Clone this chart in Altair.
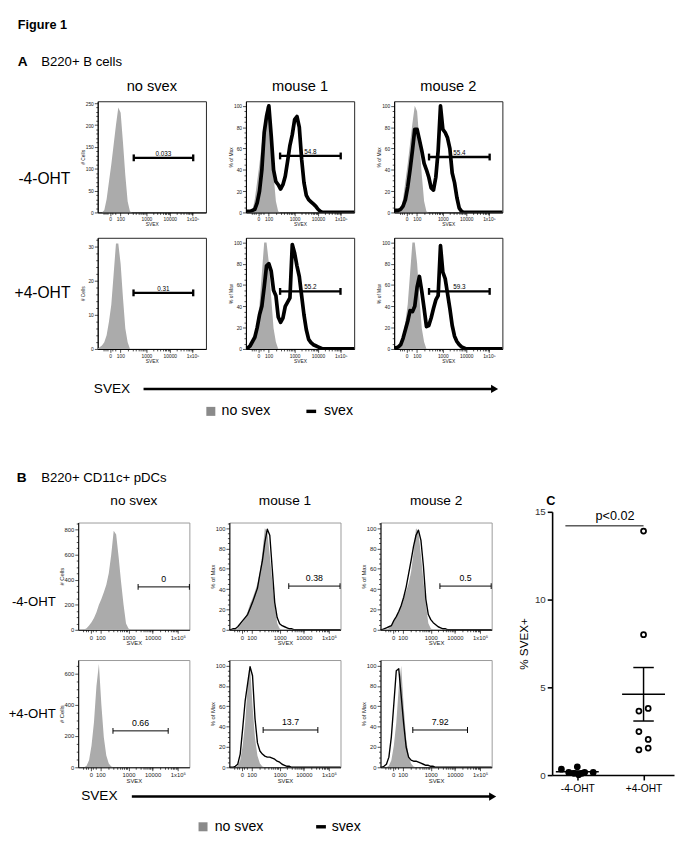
import math
import altair as alt
import pandas as pd

FONT = "Liberation Sans"
GRAY = "#ababab"
LEG_GRAY = "#8a8a8a"

# ---------------- data ----------------
svex_grid = [0.9, 1.0, 1.1, 1.2, 1.3, 1.4, 1.5, 1.6, 1.7, 1.8, 1.9, 2.0, 2.1, 2.2, 2.3, 2.4,
             2.5, 2.6, 2.7, 2.8, 2.9, 3.0, 3.1, 3.2, 3.3, 3.4, 3.5, 3.6, 3.7, 3.8, 3.9, 4.0,
             4.1, 4.2, 4.3, 5.6]

# Panel A (B220+ B cells)
a_nosvex_minus = [0, 0, 0, 5, 30, 70, 110, 155, 200, 240, 228, 160, 85, 25, 2, 0,
                  0, 0, 0, 0, 0, 0, 0, 0, 0, 0, 0, 0, 0, 0, 0, 0, 0, 0, 0, 0]
a_nosvex_plus = [0, 0.5, 1, 2, 4, 8, 13, 22, 31, 31, 25, 15, 6, 2, 0, 0,
                 0, 0, 0, 0, 0, 0, 0, 0, 0, 0, 0, 0, 0, 0, 0, 0, 0, 0, 0, 0]
a_mouse1_minus = [1, 1, 1, 2, 3, 9, 20, 40, 75, 90, 100, 72, 40, 29, 26, 22,
                  26, 34, 48, 63, 73, 87, 90, 80, 50, 28, 16, 12, 10, 8, 6, 3, 1, 0, 0, 0]
a_mouse2_minus = [2, 2, 2, 3, 6, 12, 24, 40, 58, 78, 78, 68, 58, 46, 40, 33,
                  23, 21, 33, 58, 100, 78, 75, 70, 60, 37, 28, 14, 4, 1, 0, 0, 0, 0, 0, 0]
a_mouse1_plus = [1, 1, 3, 7, 11, 20, 32, 40, 58, 78, 80, 73, 55, 50, 30, 25,
                 29, 40, 44, 48, 98, 90, 78, 68, 50, 32, 18, 9, 6, 4, 3, 2, 1, 0, 0, 0]
a_mouse2_plus = [1, 1, 2, 4, 10, 18, 26, 36, 35, 40, 58, 68, 54, 38, 21, 22,
                 29, 38, 46, 50, 97, 72, 66, 52, 38, 22, 12, 7, 4, 2, 1, 0, 0, 0, 0, 0]

# Panel B (B220+ CD11c+ pDCs)
b_nosvex_minus = [0, 0, 0, 3, 12, 35, 60, 95, 140, 200, 245, 300, 360, 450, 600, 790,
                  760, 580, 380, 200, 50, 10, 0, 0, 0, 0, 0, 0, 0, 0, 0, 0, 0, 0, 0, 0]
b_nosvex_plus = [0, 0, 0, 0, 10, 45, 140, 290, 520, 660, 400, 190, 75, 25, 5, 0,
                 0, 0, 0, 0, 0, 0, 0, 0, 0, 0, 0, 0, 0, 0, 0, 0, 0, 0, 0, 0]
b_mouse1_minus = [0, 0, 1, 1, 3, 6, 9, 12, 15, 21, 27, 34, 41, 55, 68, 86,
                  99, 93, 60, 27, 12, 6, 4, 3, 2, 1, 1, 0, 0, 0, 0, 0, 0, 0, 0, 0]
b_mouse2_minus = [0, 0, 1, 2, 3, 4, 9, 13, 18, 24, 32, 42, 55, 68, 82, 93,
                  98, 88, 63, 30, 15, 10, 7, 5, 3, 2, 1, 1, 0, 0, 0, 0, 0, 0, 0, 0]
b_mouse1_plus = [0, 0, 0, 1, 3, 13, 38, 65, 82, 99, 90, 48, 24, 16, 13, 11,
                 10, 10, 9, 8, 6, 5, 3, 2, 1, 1, 0, 0, 0, 0, 0, 0, 0, 0, 0, 0]
b_mouse2_plus = [0, 0, 1, 3, 10, 30, 62, 95, 97, 70, 43, 20, 10, 7, 6, 6,
                 5, 4, 3, 2, 2, 1, 1, 0, 0, 0, 0, 0, 0, 0, 0, 0, 0, 0, 0, 0]

# gates
gate_keys = ["A_nosvex_minus", "A_m1_minus", "A_m2_minus", "A_nosvex_plus", "A_m1_plus", "A_m2_plus",
             "B_nosvex_minus", "B_m1_minus", "B_m2_minus", "B_nosvex_plus", "B_m1_plus", "B_m2_plus"]
gate_start = [2.46, 2.38, 2.41, 2.45, 2.38, 2.41, 3.39, 3.37, 3.37, 2.37, 2.33, 2.27]
gate_end = [5.0, 4.97, 5.0, 5.0, 4.96, 5.0, 5.47, 5.45, 5.45, 4.61, 4.55, 4.49]
gate_level = [125, 53, 52, 16.5, 54, 54, 342, 43, 43, 233, 36.7, 36.7]
gate_label = ["0.033", "54.8", "55.4", "0.31", "55.2", "59.3", "0", "0.38", "0.5", "0.66", "13.7", "7.92"]

x_tick_labels = ["0", "100", "1000", "10000", "1x10\u2075"]

# Panel C
c_groups = ["-4-OHT", "+4-OHT"]
c_group = ["-4-OHT"] * 8 + ["+4-OHT"] * 8
c_values = [0.34, 0.15, 0.10, 0.47, 0.02, 0.10, 0.15, 0.15,
            13.9, 8.0, 3.65, 3.8, 2.48, 2.03, 1.44, 1.54]
c_swarm = [-0.24, -0.13, -0.05, 0.0, 0.02, 0.07, 0.11, 0.24,
           0.0, 0.0, -0.07, 0.07, -0.07, 0.07, -0.07, 0.07]

# ---------------- styles ----------------
STY = {
    "A": dict(xdom=[0.92, 5.545], xmaj=[1.45, 1.89, 3.0, 4.0, 4.97], w=111, h=114, lw=3.8, gw=2.4,
              cap=7, lab=6.5, labdy=-1, ax=5, frame="#222", ext=12, colfont=15, coloff=8,
              rowfont=16, sp=21, labw=57, labsp=8),
    "B": dict(xdom=[0.96, 5.47], xmaj=[1.47, 1.86, 3.0, 3.98, 5.0], w=114, h=110, lw=1.4, gw=1.0,
              cap=6, lab=9, labdy=-3, ax=6, frame="#999", ext=13, colfont=14, coloff=13,
              rowfont=13.5, sp=19, labw=42, labsp=1),
}


def x_axis(s):
    majors = s["xmaj"]
    minors = []
    for k in range(2, 10):
        lk = math.log10(k)
        minors += [majors[1] + (3 - majors[1]) * lk, 3 + lk, 4 + lk]
    minors += [majors[0] - 0.3, majors[0] - 0.2, majors[0] - 0.1, majors[0] + 0.1, majors[0] + 0.2]
    test = " || ".join(f"abs(datum.value - {v}) < 0.0001" for v in majors)
    lab = "''"
    for v, t in reversed(list(zip(majors, x_tick_labels))):
        lab = f"abs(datum.value - {v}) < 0.0001 ? '{t}' : ({lab})"
    return alt.Axis(values=majors + minors, labelExpr=lab, title="SVEX",
                    labelFontSize=s["ax"], titleFontSize=s["ax"], labelFont=FONT, titleFont=FONT,
                    titleFontWeight="normal", labelColor="#222", titleColor="#222",
                    labelPadding=1, titlePadding=0, labelOverlap=False, labelFlush=False,
                    domainColor="black", domainWidth=1, tickColor="black", tickWidth=0.7,
                    tickSize={"condition": {"test": test, "value": 3.5}, "value": 2}, grid=False)


def y_axis(s, ydom, majors, step, title):
    minors = [v for v in range(0, int(ydom[1]) + 1, step) if v not in majors]
    test = f"indexof({majors}, datum.value) >= 0"
    return alt.Axis(values=majors + minors, labelExpr=f"{test} ? datum.label : ''", title=title,
                    format="d", labelFontSize=s["ax"], titleFontSize=s["ax"], labelFont=FONT,
                    titleFont=FONT, titleFontWeight="normal", labelColor="#222", titleColor="#222",
                    labelPadding=1, titlePadding=1, labelOverlap=False, labelFlush=False,
                    domainColor="black", domainWidth=1, tickColor="black", tickWidth=0.7,
                    tickSize={"condition": {"test": test, "value": 3.5}, "value": 2},
                    minExtent=s["ext"], maxExtent=s["ext"], grid=False)


def panel(sec, key, gray_vals, black_vals, ydom, ymaj, ystep, ytitle, title=None):
    s = STY[sec]
    df = pd.DataFrame({"d": svex_grid, "gray": gray_vals})
    if black_vals is not None:
        df["black"] = black_vals
    xs = alt.Scale(domain=s["xdom"], nice=False, zero=False)
    ys = alt.Scale(domain=ydom, nice=False, zero=False)
    xax = x_axis(s)
    yax = y_axis(s, ydom, ymaj, ystep, ytitle)

    def X(f):
        return alt.X(f, type="quantitative", scale=xs, axis=xax, title="SVEX")

    def Y(f):
        return alt.Y(f, type="quantitative", scale=ys, axis=yax, title=ytitle)

    base = alt.Chart(df)
    layers = []
    if black_vals is None:
        layers.append(base.mark_area(color=GRAY, clip=True).encode(x=X("d"), y=Y("gray")))
    else:
        layers.append(
            base.transform_joinaggregate(gmax="max(gray)")
            .transform_calculate(gpct="datum.gray / datum.gmax * 100")
            .mark_area(color=GRAY, clip=True)
            .encode(x=X("d"), y=Y("gpct"))
        )
        layers.append(base.mark_line(color="black", strokeWidth=s["lw"], clip=True, strokeJoin="round")
                      .encode(x=X("d"), y=Y("black")))
    i = gate_keys.index(key)
    gdf = pd.DataFrame({"x1": [gate_start[i]], "x2": [gate_end[i]], "y": [gate_level[i]],
                        "label": [gate_label[i]]})
    g = alt.Chart(gdf)
    layers.append(g.mark_rule(color="black", strokeWidth=s["gw"])
                  .encode(x=X("x1"), x2=alt.X2("x2:Q"), y=Y("y")))
    layers.append(g.transform_fold(["x1", "x2"], as_=["end", "xe"])
                  .mark_tick(orient="vertical", size=s["cap"], thickness=s["gw"], color="black", opacity=1)
                  .encode(x=X("xe"), y=Y("y")))
    layers.append(g.transform_calculate(xm="(datum.x1 + datum.x2) / 2")
                  .mark_text(fontSize=s["lab"], font=FONT, baseline="bottom", dy=s["labdy"], color="black")
                  .encode(x=X("xm"), y=Y("y"), text="label:N"))
    ch = alt.layer(*layers).properties(width=s["w"], height=s["h"],
                                       view=alt.ViewBackground(stroke=s["frame"], strokeWidth=1))
    if title:
        ch = ch.properties(title=alt.Title(title, fontSize=s["colfont"], fontWeight="normal", font=FONT,
                                           anchor="middle", offset=s["coloff"], color="black"))
    return ch


def text_mark(x, y, t, size, align="left", **kw):
    return alt.Chart(pd.DataFrame({"k": [0]})).mark_text(
        align=align, baseline="middle", fontSize=size, font=FONT, color="black", **kw
    ).encode(x=alt.value(x), y=alt.value(y), text=alt.value(t))


def row(sec, panels, label, with_titles):
    s = STY[sec]
    top = (s["colfont"] + s["coloff"]) if with_titles else 0
    lab = text_mark(s["labw"], top + s["h"] / 2, label, s["rowfont"], align="right").properties(
        width=s["labw"], height=top + s["h"], view=alt.ViewBackground(stroke="transparent"))
    return alt.hconcat(lab, alt.hconcat(*panels, spacing=s["sp"]), spacing=s["labsp"])


def header(lines, w, h):
    layers = [text_mark(x, y, t, size, fontWeight=wt) for (x, y, t, size, wt) in lines]
    return alt.layer(*layers).properties(width=w, height=h, view=alt.ViewBackground(stroke="transparent"))


def footer(w, h, svex_x, arrow_x1, arrow_x2, arrow_y, leg_y, sq_x, sq_txt, dash_x1, dash_txt):
    one = pd.DataFrame({"k": [0]})
    layers = [
        text_mark(svex_x, arrow_y, "SVEX", 14),
        alt.Chart(one).mark_rule(color="black", strokeWidth=2.5).encode(
            x=alt.value(arrow_x1), x2=alt.value(arrow_x2 - 4), y=alt.value(arrow_y)),
        alt.Chart(one).mark_point(shape="triangle-right", filled=True, size=70, color="black", opacity=1).encode(
            x=alt.value(arrow_x2 - 3), y=alt.value(arrow_y)),
        alt.Chart(one).mark_square(size=85, color=LEG_GRAY, opacity=1).encode(
            x=alt.value(sq_x), y=alt.value(leg_y)),
        text_mark(sq_txt, leg_y, "no svex", 14.5),
        alt.Chart(one).mark_rule(color="black", strokeWidth=3.5).encode(
            x=alt.value(dash_x1), x2=alt.value(dash_x1 + 10), y=alt.value(leg_y)),
        text_mark(dash_txt, leg_y, "svex", 14.5),
    ]
    return alt.layer(*layers).properties(width=w, height=h, view=alt.ViewBackground(stroke="transparent"))


# ---------------- Panel A ----------------
A_m_dom = [0, 104.3]
A_pct = [0, 20, 40, 60, 80, 100]
rowA1 = row("A", [
    panel("A", "A_nosvex_minus", a_nosvex_minus, None, [0, 254.5], [0, 50, 100, 150, 200, 250], 10, "# Cells", "no svex"),
    panel("A", "A_m1_minus", a_nosvex_minus, a_mouse1_minus, A_m_dom, A_pct, 5, "% of Max", "mouse 1"),
    panel("A", "A_m2_minus", a_nosvex_minus, a_mouse2_minus, A_m_dom, A_pct, 5, "% of Max", "mouse 2"),
], "-4-OHT", True)
rowA2 = row("A", [
    panel("A", "A_nosvex_plus", a_nosvex_plus, None, [0, 32.7], [0, 10, 20, 30], 2, "# Cells"),
    panel("A", "A_m1_plus", a_nosvex_plus, a_mouse1_plus, A_m_dom, A_pct, 5, "% of Max"),
    panel("A", "A_m2_plus", a_nosvex_plus, a_mouse2_plus, A_m_dom, A_pct, 5, "% of Max"),
], "+4-OHT", False)
footA = footer(495, 52, 81, 132, 495, 23, 46, 201, 212, 299, 317)

headA = header([(3, 5, "Figure 1", 13, "bold"), (3, 43, "A", 14, "bold"), (27, 43, "B220+ B cells", 13.5, "normal")],
               300, 50)
secA = alt.vconcat(
    headA,
    alt.vconcat(alt.vconcat(rowA1, rowA2, spacing=1), footA, spacing=2),
    spacing=8,
)

# ---------------- Panel B ----------------
B_m_dom = [0, 105.5]
rowB1 = row("B", [
    panel("B", "B_nosvex_minus", b_nosvex_minus, None, [0, 855], [0, 200, 400, 600, 800], 50, "# Cells", "no svex"),
    panel("B", "B_m1_minus", b_nosvex_minus, b_mouse1_minus, B_m_dom, A_pct, 5, "% of Max", "mouse 1"),
    panel("B", "B_m2_minus", b_nosvex_minus, b_mouse2_minus, B_m_dom, A_pct, 5, "% of Max", "mouse 2"),
], "-4-OHT", True)
rowB2 = row("B", [
    panel("B", "B_nosvex_plus", b_nosvex_plus, None, [0, 686], [0, 200, 400, 600], 50, "# Cells"),
    panel("B", "B_m1_plus", b_nosvex_plus, b_mouse1_plus, B_m_dom, A_pct, 5, "% of Max"),
    panel("B", "B_m2_plus", b_nosvex_plus, b_mouse2_plus, B_m_dom, A_pct, 5, "% of Max"),
], "+4-OHT", False)
footB = footer(493, 46, 68, 120, 493, 10, 41, 193, 205, 309, 325)

headB = header([(2, 9, "B", 14, "bold"), (27, 9, "B220+ CD11c+ pDCs", 13.5, "normal")], 300, 18)
secB = alt.vconcat(
    headB,
    alt.vconcat(alt.vconcat(rowB1, rowB2, spacing=0), footB, spacing=2),
    spacing=6,
)

# ---------------- Panel C ----------------
c_df = pd.DataFrame({"group": c_group, "pct": c_values, "swarm": c_swarm})
xcs = alt.Scale(domain=[-0.38, 1.46], nice=False, zero=False)
ycs = alt.Scale(domain=[0, 15], nice=False, zero=False)
xc_axis = alt.Axis(values=[0, 1], labelExpr="datum.value < 0.5 ? '-4-OHT' : '+4-OHT'", title="",
                   labelFontSize=10.5, labelFont=FONT, labelColor="black", domainColor="black",
                   domainWidth=1.6, tickColor="black", tickWidth=1.6, tickSize=5, labelPadding=4,
                   grid=False, labelFlush=False)
yc_axis = alt.Axis(values=[0, 5, 10, 15], title="% SVEX+", labelFontSize=10, labelFont=FONT,
                   titleFont=FONT, titleFontSize=12, titleFontWeight="normal", labelColor="#333",
                   titleColor="black", domainColor="black", domainWidth=1.6, tickColor="black",
                   tickWidth=1.6, tickSize=5, labelPadding=2, titlePadding=4, grid=False)


def XC(f):
    return alt.X(f, type="quantitative", scale=xcs, axis=xc_axis, title="")


def YC(f):
    return alt.Y(f, type="quantitative", scale=ycs, axis=yc_axis, title="% SVEX+")


c_base = alt.Chart(c_df)
c_pts = c_base.transform_calculate(
    xpos="(datum.group == '-4-OHT' ? 0 : 1) + datum.swarm"
).mark_point(shape="circle", filled=True, stroke="black", strokeWidth=1.8, size=26, opacity=1).encode(
    x=XC("xpos"), y=YC("pct"),
    fill=alt.Fill("group:N", scale=alt.Scale(domain=c_groups, range=["black", "white"]), legend=None))
c_sum = c_base.transform_aggregate(m="mean(pct)", se="stderr(pct)", groupby=["group"]).transform_calculate(
    xpos="datum.group == '-4-OHT' ? 0 : 1", lo="datum.m - datum.se", hi="datum.m + datum.se")
c_mean = c_sum.mark_tick(orient="horizontal", size=44, thickness=1.5, color="black", opacity=1).encode(
    x=XC("xpos"), y=YC("m"))
c_err = c_sum.mark_rule(color="black", strokeWidth=1.5).encode(x=XC("xpos"), y=YC("lo"), y2=alt.Y2("hi:Q"))
c_caps = c_sum.transform_fold(["lo", "hi"], as_=["which", "v"]).mark_tick(
    orient="horizontal", size=21, thickness=1.5, color="black", opacity=1).encode(x=XC("xpos"), y=YC("v"))
sig_df = pd.DataFrame({"x1": [-0.18], "x2": [1.0], "y": [14.2], "label": ["p<0.02"], "xt": [0.57]})
c_sig = alt.Chart(sig_df).mark_rule(color="black", strokeWidth=1).encode(x=XC("x1"), x2=alt.X2("x2:Q"), y=YC("y"))
c_sig_t = alt.Chart(sig_df).mark_text(fontSize=13, font=FONT, baseline="bottom", dy=-3, color="black").encode(
    x=XC("xt"), y=YC("y"), text="label:N")
chartC = alt.layer(c_err, c_caps, c_mean, c_pts, c_sig, c_sig_t).properties(
    width=125, height=270, view=alt.ViewBackground(stroke="transparent"),
    title=alt.Title("C", anchor="start", fontSize=13, fontWeight="bold", font=FONT, dx=29, offset=-1,
                    color="black"))

spacerC = text_mark(0, 0, "", 1).properties(width=10, height=480,
                                             view=alt.ViewBackground(stroke="transparent"))
colC = alt.vconcat(spacerC, chartC, spacing=5)

left = alt.vconcat(secA, secB, spacing=51)
chart = alt.hconcat(left, colC, spacing=14).properties(padding=0).configure(
    font=FONT).configure_view(stroke="transparent")

chart.save("out.html", embed_options={"renderer": "svg", "actions": False})
